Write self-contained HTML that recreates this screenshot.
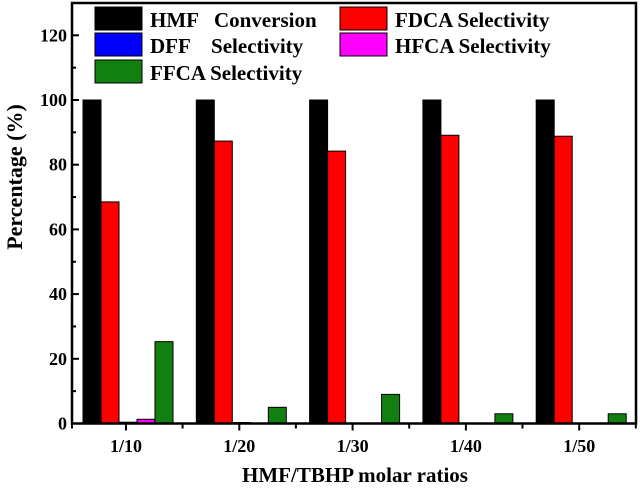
<!DOCTYPE html>
<html><head><meta charset="utf-8"><style>
body{margin:0;background:#fff}
svg text{font-family:"Liberation Serif",serif;font-weight:bold;fill:#000;white-space:pre}
</style></head><body>
<svg id="c" width="640" height="488"></svg>
<script>
const categories=["1/10","1/20","1/30","1/40","1/50"];
const hmfConversion=[100,100,100,100,100];
const fdcaSelectivity=[68.5,87.3,84.2,89.1,88.8];
const dffSelectivity=[0.4,0.3,0,0,0];
const hfcaSelectivity=[1.3,0,0,0,0];
const ffcaSelectivity=[25.3,5,9,3,3];
const yTicks=[0,20,40,60,80,100,120];
const seriesNames=["HMF   Conversion","DFF    Selectivity","FFCA Selectivity","FDCA Selectivity","HFCA Selectivity"];

const svg=document.getElementById('c');const NS="http://www.w3.org/2000/svg";
const L=72,R=636,T=3,B=423.5;
const y=v=>B-v*3.235;
const xc=i=>126+i*113.3;
function mk(t,a,p){const e=document.createElementNS(NS,t);for(const k in a)e.setAttribute(k,a[k]);(p||svg).appendChild(e);return e;}
const series=[[hmfConversion,"#000","black"],[fdcaSelectivity,"#f00","red"],[dffSelectivity,"#00f","blue"],[hfcaSelectivity,"#f0f","magenta"],[ffcaSelectivity,"#118011","green"]];
const bw=18;
series.forEach((s,si)=>{s[0].forEach((v,i)=>{
 const x0=xc(i)-43+si*bw;
 const r=mk('rect',{x:x0,y:y(v),width:bw,height:B-y(v),fill:s[1],stroke:"#000","stroke-width":1});
 
 
});});
const f=mk('rect',{x:L,y:T,width:R-L,height:B-T,fill:"none",stroke:"#000","stroke-width":2.5});

yTicks.forEach(v=>{
 mk('line',{x1:L,x2:L+7,y1:y(v),y2:y(v),stroke:"#000","stroke-width":2});
 mk('line',{x1:L,x2:L+4,y1:y(v+10),y2:y(v+10),stroke:"#000","stroke-width":2});
 const t=mk('text',{x:L-5,y:y(v)+6,"text-anchor":"end","font-size":18});t.textContent=v;
 
});
categories.forEach((c,i)=>{
 mk('line',{x1:xc(i),x2:xc(i),y1:B,y2:B+7,stroke:"#000","stroke-width":2});
 mk('line',{x1:xc(i)+56.6,x2:xc(i)+56.6,y1:B,y2:B+5,stroke:"#000","stroke-width":2});
 const t=mk('text',{x:xc(i),y:452,"text-anchor":"middle","font-size":18});t.textContent=c;
 
});
mk('line',{x1:L,x2:L,y1:B,y2:B+5,stroke:"#000","stroke-width":2});
const xt=mk('text',{x:355,y:482,"text-anchor":"middle","font-size":21});xt.textContent="HMF/TBHP molar ratios";

const yt=mk('text',{x:0,y:0,"text-anchor":"middle","font-size":22,transform:"translate(22,177) rotate(-90)"});yt.textContent="Percentage (%)";

const leg=[[95,7,"#000",0],[95,33,"#00f",1],[95,60,"#118011",2],[340,7,"#f00",3],[340,33,"#f0f",4]];
leg.forEach(l=>{
 const g=mk('g',{});
 mk('rect',{x:l[0],y:l[1],width:47,height:23,fill:l[2],stroke:"#000","stroke-width":1},g);
 const t=mk('text',{x:l[0]+55,y:l[1]+20,"font-size":21},g);t.textContent=seriesNames[l[3]];
});
</script>
</body></html>
